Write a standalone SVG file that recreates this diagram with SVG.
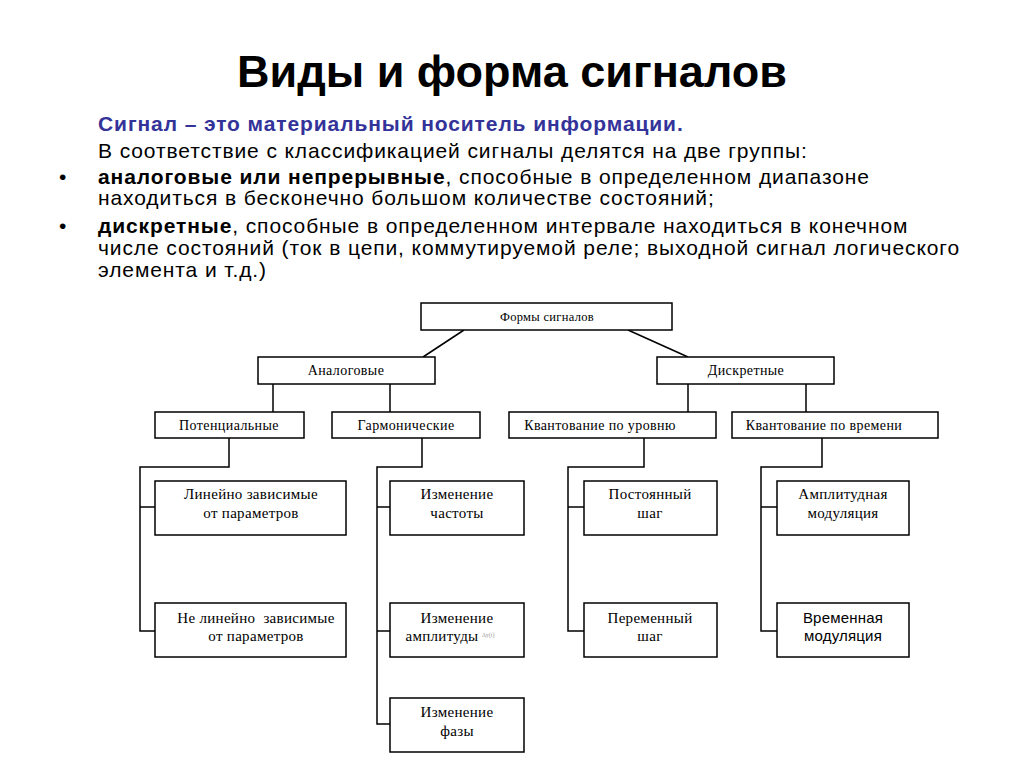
<svg xmlns="http://www.w3.org/2000/svg" width="1024" height="767" viewBox="0 0 1024 767">
<style>
.bg{fill:#fff}
.title{font-family:"Liberation Sans",Arial,sans-serif;font-weight:bold;font-size:45px;fill:#000}
.body{font-family:"Liberation Sans",Arial,sans-serif;font-size:21px;letter-spacing:0.9px;fill:#000}
.lead{font-family:"Liberation Sans",Arial,sans-serif;font-size:21px;letter-spacing:0.9px;font-weight:bold;fill:#333399}
.b{font-weight:bold}
.box{fill:#fff;stroke:#000;stroke-width:1.5}
.t{font-family:"Liberation Serif","Times New Roman",serif;font-size:15px;letter-spacing:0.3px;fill:#000;text-anchor:middle}
.ts{font-family:"Liberation Serif","Times New Roman",serif;font-size:12.5px;letter-spacing:0.3px;fill:#000;text-anchor:middle}
.tm{font-family:"Liberation Serif","Times New Roman",serif;font-size:14px;letter-spacing:0.4px;fill:#000;text-anchor:middle}
.ta{font-family:"Liberation Sans",Arial,sans-serif;font-size:15px;letter-spacing:0.2px;fill:#000;text-anchor:middle}
.tiny{font-family:"Liberation Serif",serif;font-size:6px;fill:#999}
.conn{fill:none;stroke:#000;stroke-width:1.5}
</style>
<rect class="bg" x="0" y="0" width="1024" height="767"/>
<g id="header">
<text class="title" x="512" y="87" text-anchor="middle">Виды и форма сигналов</text>
<text class="lead" x="98" y="131">Сигнал – это материальный носитель информации.</text>
<text class="body" x="98" y="158">В соответствие с классификацией сигналы делятся на две группы:</text>
<text class="body" x="59" y="184">•</text>
<text class="body" x="98" y="184"><tspan class="b">аналоговые или непрерывные</tspan>, способные в определенном диапазоне</text>
<text class="body" x="98" y="205">находиться в бесконечно большом количестве состояний;</text>
<text class="body" x="59" y="233">•</text>
<text class="body" x="98" y="233"><tspan class="b">дискретные</tspan>, способные в определенном интервале находиться в конечном</text>
<text class="body" x="98" y="255">числе состояний (ток в цепи, коммутируемой реле; выходной сигнал логического</text>
<text class="body" x="98" y="277">элемента и т.д.)</text>
</g>
<g id="connectors">
<line class="conn" x1="464" y1="330" x2="423" y2="357"/>
<line class="conn" x1="628" y1="330" x2="688" y2="357"/>
<line class="conn" x1="273" y1="384" x2="273" y2="412"/>
<line class="conn" x1="390" y1="384" x2="390" y2="412"/>
<line class="conn" x1="688" y1="384" x2="688" y2="412"/>
<line class="conn" x1="806" y1="384" x2="806" y2="412"/>
<polyline class="conn" points="229,438 229,467 140,467 140,631 155,631"/>
<line class="conn" x1="140" y1="507" x2="155" y2="507"/>
<polyline class="conn" points="422,438 422,467 377,467 377,724 390,724"/>
<line class="conn" x1="377" y1="507" x2="390" y2="507"/>
<line class="conn" x1="377" y1="631" x2="390" y2="631"/>
<polyline class="conn" points="644,438 644,467 568,467 568,631 584,631"/>
<line class="conn" x1="568" y1="507" x2="584" y2="507"/>
<polyline class="conn" points="822,438 822,467 761,467 761,631 777,631"/>
<line class="conn" x1="761" y1="507" x2="777" y2="507"/>
</g>
<g id="n-forms"><rect class="box" x="421" y="303" width="251" height="27"/><text class="ts" x="547" y="321">Формы сигналов</text></g>
<g id="n-analog"><rect class="box" x="258" y="357" width="177" height="27"/><text class="tm" x="346" y="375">Аналоговые</text></g>
<g id="n-discrete"><rect class="box" x="657" y="357" width="177" height="27"/><text class="tm" x="746" y="375">Дискретные</text></g>
<g id="n-potential"><rect class="box" x="155" y="412" width="149" height="26"/><text class="tm" x="229" y="430">Потенциальные</text></g>
<g id="n-harmonic"><rect class="box" x="332" y="412" width="148" height="26"/><text class="tm" x="406" y="430">Гармонические</text></g>
<g id="n-qlevel"><rect class="box" x="509" y="412" width="207" height="26"/><text class="tm" x="600" y="430">Квантование по уровню</text></g>
<g id="n-qtime"><rect class="box" x="732" y="412" width="206" height="26"/><text class="tm" x="824" y="430">Квантование по времени</text></g>
<g id="n-linear"><rect class="box" x="155" y="481" width="191" height="54"/><text class="t" x="251" y="499">Линейно зависимые</text><text class="t" x="251" y="518">от параметров</text></g>
<g id="n-nonlinear"><rect class="box" x="155" y="603" width="191" height="54"/><text class="t" x="256" y="623" xml:space="preserve">Не линейно  зависимые</text><text class="t" x="256" y="641">от параметров</text></g>
<g id="n-freq"><rect class="box" x="390" y="481" width="134" height="54"/><text class="t" x="457" y="499">Изменение</text><text class="t" x="457" y="518">частоты</text></g>
<g id="n-ampl"><rect class="box" x="390" y="603" width="134" height="54"/><text class="t" x="457" y="623">Изменение</text><text class="t" x="442" y="641">амплитуды</text><text class="tiny" x="482" y="637">Δy(t)</text></g>
<g id="n-phase"><rect class="box" x="390" y="698" width="134" height="54"/><text class="t" x="457" y="717">Изменение</text><text class="t" x="457" y="736">фазы</text></g>
<g id="n-conststep"><rect class="box" x="584" y="481" width="133" height="54"/><text class="t" x="650" y="499">Постоянный</text><text class="t" x="650" y="518">шаг</text></g>
<g id="n-varstep"><rect class="box" x="584" y="603" width="133" height="54"/><text class="t" x="650" y="623">Переменный</text><text class="t" x="650" y="641">шаг</text></g>
<g id="n-am"><rect class="box" x="777" y="481" width="132" height="54"/><text class="t" x="843" y="499">Амплитудная</text><text class="t" x="843" y="518">модуляция</text></g>
<g id="n-tm"><rect class="box" x="777" y="603" width="132" height="54"/><text class="ta" x="843" y="623">Временная</text><text class="ta" x="843" y="641">модуляция</text></g>
</svg>
